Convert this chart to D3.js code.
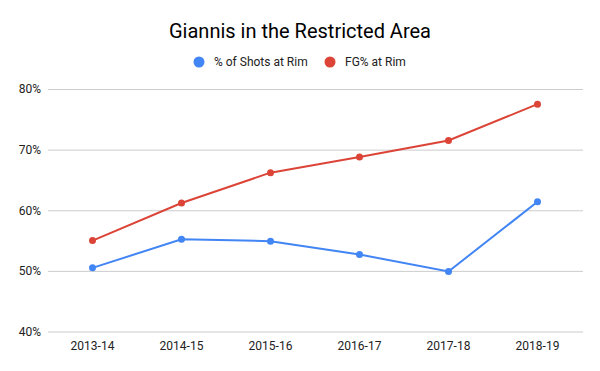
<!DOCTYPE html>
<html>
<head>
<meta charset="utf-8">
<script src="https://cdn.jsdelivr.net/npm/d3@7"></script>
<style>
  body { margin: 0; background: #fff; }
  text { font-family: Roboto, "Noto Sans", sans-serif; }
</style>
</head>
<body>
<svg id="chart" width="600" height="371"></svg>
<script>
// data
var seasons = ["2013-14", "2014-15", "2015-16", "2016-17", "2017-18", "2018-19"];
var shotsAtRim = [50.5, 55.2, 54.9, 52.7, 49.9, 61.4];
var fgAtRim = [55.0, 61.2, 66.2, 68.8, 71.5, 77.5];
var yTicks = [40, 50, 60, 70, 80];

var series = [
    {name: "% of Shots at Rim", color: "#4285f4", values: shotsAtRim},
    {name: "FG% at Rim", color: "#db4437", values: fgAtRim}
];

var svg = d3.select("#chart");
var margin = {top: 89, right: 18, bottom: 40, left: 48};
var width = 600 - margin.left - margin.right;
var height = 371 - margin.top - margin.bottom;

svg.append("rect").attr("width", 600).attr("height", 371).attr("fill", "#fff");

// title
svg.append("text")
    .attr("x", 300)
    .attr("y", 38)
    .attr("text-anchor", "middle")
    .attr("font-size", 20)
    .attr("fill", "#000")
    .text("Giannis in the Restricted Area");

var g = svg.append("g")
    .attr("transform", "translate(" + margin.left + "," + margin.top + ")");

var x = d3.scaleBand().domain(seasons).range([0, 534]);
var y = d3.scaleLinear().domain([40, 80]).range([242.5, 0]);

// gridlines + y labels
var yAxis = g.append("g")
    .call(d3.axisLeft(y).tickValues(yTicks).tickSize(-535).tickFormat(function(d) { return d + "%"; }));
yAxis.select(".domain").remove();
yAxis.selectAll(".tick line").attr("stroke", "#cccccc").attr("stroke-width", 1);
yAxis.selectAll(".tick text")
    .attr("x", -7)
    .attr("font-size", 12)
    .attr("fill", "#222")
    .attr("font-family", "Roboto, sans-serif");

// x labels
var xAxis = g.append("g")
    .attr("transform", "translate(0," + height + ")")
    .call(d3.axisBottom(x).tickSize(0));
xAxis.select(".domain").remove();
xAxis.selectAll(".tick text")
    .attr("dy", "1em")
    .attr("y", 7)
    .attr("font-size", 12)
    .attr("fill", "#222")
    .attr("font-family", "Roboto, sans-serif");

var line = d3.line()
    .x(function(d, i) { return x(seasons[i]) + x.bandwidth() / 2; })
    .y(function(d) { return y(d); });

series.forEach(function(s) {
    g.append("path")
        .datum(s.values)
        .attr("fill", "none")
        .attr("stroke", s.color)
        .attr("stroke-width", 2)
        .attr("d", line);

    g.selectAll(null)
        .data(s.values)
        .enter().append("circle")
        .attr("cx", function(d, i) { return x(seasons[i]) + x.bandwidth() / 2; })
        .attr("cy", function(d) { return y(d); })
        .attr("r", 3.5)
        .attr("fill", s.color);
});

// legend
var legendX = [199, 330];
var legend = svg.append("g");
series.forEach(function(s, i) {
    legend.append("circle")
        .attr("cx", legendX[i])
        .attr("cy", 62)
        .attr("r", 5.5)
        .attr("fill", s.color);
    legend.append("text")
        .attr("x", legendX[i] + 15)
        .attr("y", 66)
        .attr("font-size", 12)
        .attr("fill", "#222")
        .text(s.name);
});
</script>
</body>
</html>
